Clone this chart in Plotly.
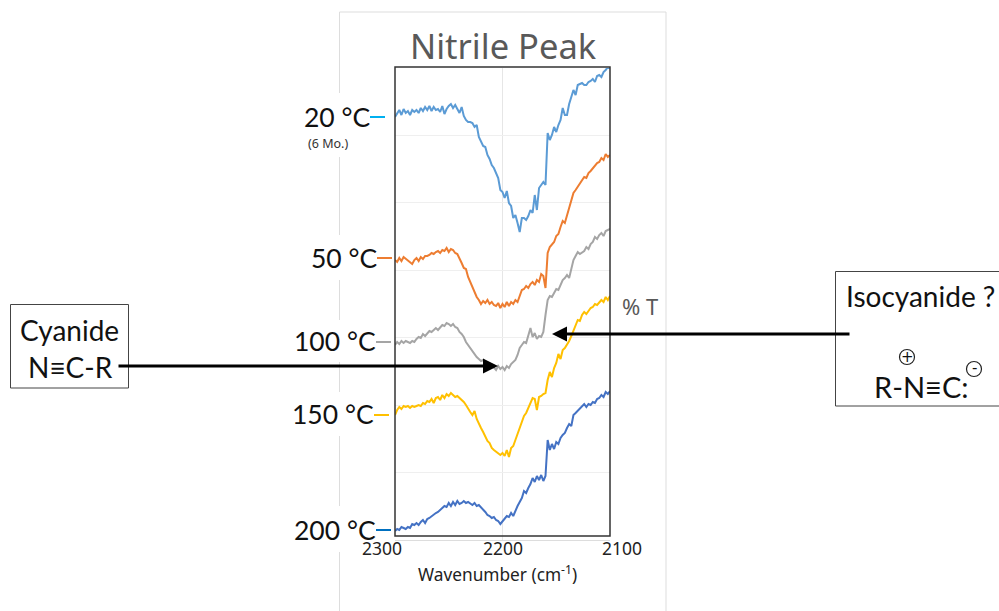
import plotly.graph_objects as go

# Wavenumber sampling (cm-1), every 2 cm-1 from 2300 down to 2100
wavenumber = list(range(2300, 2098, -2))

# Stacked, offset % T traces (arbitrary units)
t_20c = [423,426,430,425,431, 427,429,425,430,428, 430,427,432,429,433, 430,434,429,433,430,
         431,428,434,426,431, 434,436,432,435,431, 427,433,424,420,418, 418,417,413,415,403,
         399,394,393,385,381, 375,372,366,362,350, 348,342,349,337,334, 322,325,317,308,322,
         322,320,324,330,327, 345,330,352,355,358, 355,407,400,405,413, 408,415,420,432,425,
         425,436,443,450,445, 455,456,457,455,455, 458,459,461,458,464, 465,463,468,470,473, 472]
t_50c = [280,278,282,279,283, 281,279,278,276,280, 282,279,283,281,284, 284,285,287,286,288,
         289,287,290,289,292, 288,291,290,287,286, 282,277,272,271,263, 258,253,249,243,240,
         236,239,237,240,236, 238,235,234,237,232, 236,233,238,234,238, 236,240,238,245,250,
         251,254,252,256,258, 255,260,258,266,264, 252,287,293,296,298, 304,306,313,319,317,
         325,333,340,347,350, 353,356,359,363,362, 367,369,372,375,377, 378,382,380,386,383, 385]
t_100c = [195,198,196,199,197, 199,198,197,199,198, 201,203,202,206,204, 207,209,208,210,212,
          210,213,215,214,217, 216,214,216,213,212, 208,206,203,198,195, 191,189,186,183,181,
          179,180,177,176,173, 175,172,170,174,171, 173,170,174,172,176, 178,180,185,192,195,
          198,197,205,212,203, 207,201,204,203,208, 225,240,244,243,247, 251,250,255,260,262,
          265,262,272,280,284, 288,286,288,289,293, 291,296,298,303,301, 305,307,304,309,310, 311]
t_150c = [125,130,133,131,134, 133,134,132,134,133, 134,135,134,137,136, 139,138,141,137,142,
          143,140,145,142,146, 144,147,145,143,144, 142,141,138,135,131, 128,125,129,121,116,
          112,108,103,99,97, 92,90,88,87,85, 87,84,90,83,92, 94,100,106,112,118,
          124,127,132,138,142, 141,130,143,144,146, 147,160,168,163,172, 177,186,181,190,192,
          195,199,204,209,214, 220,219,225,228,226, 229,232,233,236,235, 238,240,238,243,240, 244]
t_200c = [9,11,10,13,12, 11,13,12,16,15, 17,15,18,20,17, 21,22,24,25,27,
          28,30,32,34,33, 37,34,38,35,39, 36,37,39,37,38, 36,35,37,34,35,
          33,31,28,25,24, 22,23,20,19,16, 19,22,24,23,27, 24,30,34,38,42,
          49,47,52,56,62, 58,64,60,65,59, 64,100,90,96,91, 98,96,102,105,107,
          112,116,114,125,127, 129,131,134,136,133, 136,135,138,137,141, 142,145,143,148,146, 149]

series_names = ["20 °C", "50 °C", "100 °C", "150 °C", "200 °C"]
x_tick_labels = ["2300", "2200", "2100"]

W, H = 999, 611
L, R, T, B = 395, 610, 68, 540


def px(x):
    return (x - L) / (R - L)


def py(y):
    return (B - y) / (B - T)


fig = go.Figure()
for name, vals, col in zip(series_names, [t_20c, t_50c, t_100c, t_150c, t_200c],
                           ["#5B9BD5", "#ED7D31", "#A5A5A5", "#FFC000", "#4472C4"]):
    fig.add_trace(go.Scatter(x=wavenumber, y=vals, mode="lines", name=name,
                             line=dict(color=col, width=2), showlegend=False))

shapes = []


def rect(x0, y0, x1, y1, line=None, fill=None, width=1):
    shapes.append(dict(type="rect", xref="paper", yref="paper", x0=px(x0), x1=px(x1), y0=py(y0), y1=py(y1),
                       line=dict(color=line or "rgba(0,0,0,0)", width=width if line else 0),
                       fillcolor=fill or "rgba(0,0,0,0)", layer="above"))


def seg(x0, y0, x1, y1, col, width=2):
    shapes.append(dict(type="line", xref="paper", yref="paper", x0=px(x0), x1=px(x1), y0=py(y0), y1=py(y1),
                       line=dict(color=col, width=width), layer="above"))


def ring(cx, cy, r):
    shapes.append(dict(type="circle", xref="paper", yref="paper", x0=px(cx - r), x1=px(cx + r),
                       y0=py(cy - r), y1=py(cy + r), line=dict(color="#222222", width=1.2),
                       fillcolor="rgba(0,0,0,0)", layer="above"))


# chart frame, behind the label patches
shapes.append(dict(type="rect", xref="paper", yref="paper", x0=px(339.5), x1=px(666), y0=py(12), y1=py(640),
                   line=dict(color="#DDDDDD", width=1), fillcolor="rgba(0,0,0,0)", layer="below"))
# white patches under the pasted temperature labels
rect(300, 93, 370, 157, fill="white")
rect(310, 235, 377, 280, fill="white")
rect(293, 320, 376, 362, fill="white")
rect(291, 392, 374, 436, fill="white")
rect(293, 506, 376, 552, fill="white")

# black plot outline
rect(395, 67, 610, 536, line="#333333", width=1.5)
# label dashes
seg(370, 117, 385, 117, "#00B0F0")
seg(377, 258, 392, 258, "#ED7D31")
seg(376, 342, 391, 342, "#A5A5A5")
seg(374, 415, 389, 415, "#FFC000")
seg(376, 530, 391, 530, "#0070C0")
# text boxes
rect(10.5, 304.5, 128.5, 388, line="#444444", fill="white")
rect(835.5, 271.5, 1010, 406, line="#444444", fill="white")
# charge circles
ring(907, 357, 7.5)
ring(974, 369, 7.5)

ann = []


def text(x, y, s, size, col="#111111", font="Lato", anchor="center"):
    ann.append(dict(xref="paper", yref="paper", x=px(x), y=py(y), text=s, showarrow=False, xanchor=anchor,
                    yanchor="middle", font=dict(family=font, size=size, color=col)))


text(503, 45, "Nitrile Peak", 34.5, "#595959", "Noto Sans")
text(640, 306, "% T", 22, "#595959", "Noto Sans")
text(497, 573, "Wavenumber (cm<sup>-1</sup>)", 17.3, "#222222", "Noto Sans")
for x, s in zip([382, 503, 622], x_tick_labels):
    text(x, 548, s, 17.5, "#222222", "Noto Sans")

for x, y, s in zip([337.5, 344.5, 335, 333, 335], [117, 258, 341, 414, 530], series_names):
    text(x, y, s, 26.5)
text(328, 143, "(6 Mo.)", 12.5, "#333333", "Noto Sans")

text(69, 330, "Cyanide", 28)
text(70, 367, "N≡C-R", 28)
text(920, 296, "Isocyanide ?", 28)
text(921, 386, "R-N≡C:", 29)
text(907, 356.5, "+", 15, "#111111", "DejaVu Sans")
text(974, 368, "-", 15, "#111111", "DejaVu Sans")

# arrows
for x0, x1, y in [(117, 498, 366), (851, 552, 334)]:
    ann.append(dict(xref="paper", yref="paper", x=px(x1), y=py(y), ax=x0 - x1, ay=0, text="", showarrow=True,
                    arrowhead=2, arrowsize=1, arrowwidth=3, arrowcolor="#000000", standoff=0, startstandoff=0))

fig.update_layout(
    width=W, height=H, margin=dict(l=L, r=W - R, t=T, b=H - B),
    paper_bgcolor="white", plot_bgcolor="white", showlegend=False,
    shapes=shapes, annotations=ann,
    xaxis=dict(range=[2300, 2100], tickvals=[2300, 2200, 2100], showticklabels=False, showgrid=True,
               gridcolor="#E6E6E6", gridwidth=1, zeroline=False, showline=True, linecolor="#DDDDDD", ticks=""),
    yaxis=dict(range=[0, 472], tick0=0, dtick=472 / 7, showticklabels=False, showgrid=True,
               gridcolor="#EFEFEF", gridwidth=1, zeroline=False, showline=False, ticks=""),
)
fig.write_html("out.html", config=dict(displayModeBar=False),
               post_script="document.body.style.margin='0';document.body.style.overflow='hidden';")
